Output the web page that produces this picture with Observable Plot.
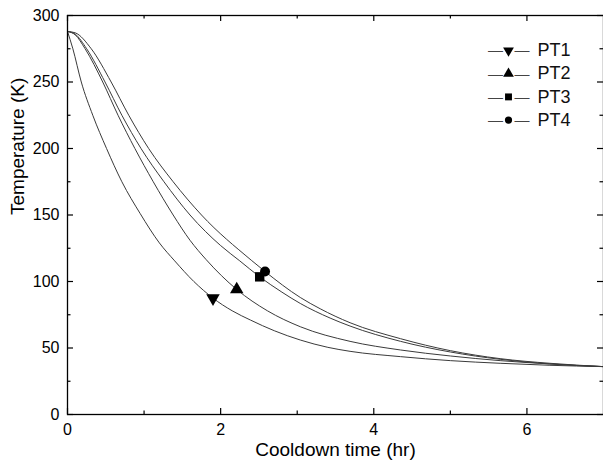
<!DOCTYPE html>
<html>
<head>
<meta charset="utf-8">
<script src="https://cdn.jsdelivr.net/npm/d3@7"></script>
<script src="https://cdn.jsdelivr.net/npm/@observablehq/plot@0.6"></script>
<style>
  html, body { margin: 0; padding: 0; background: #fff; }
  #chart svg { display: block; }
</style>
</head>
<body>
<div id="chart"></div>
<script>
// ---- data ----
const seriesNames = ["PT1", "PT2", "PT3", "PT4"];
const pt1Time = [0, 0.07, 0.18, 0.33, 0.51, 0.71, 0.95, 1.2, 1.40, 1.65, 1.90, 2.15, 2.39, 2.7, 3.04, 3.4, 3.69, 4.35, 5.0, 5.65, 6.3, 7.0];
const pt1Temp = [288, 275, 250, 225, 200, 175, 151, 129, 115.5, 100, 87.5, 78, 71, 63, 56, 50.5, 47.5, 43.5, 40.5, 38.5, 37, 36];
const pt2Time = [0, 0.1, 0.23, 0.46, 0.66, 0.88, 1.12, 1.38, 1.6, 1.81, 2.21, 2.61, 3.04, 3.69, 4.35, 5.0, 5.65, 6.3, 7.0];
const pt2Temp = [288, 285.5, 275, 250, 225, 200, 175, 150, 131, 116.5, 94, 78, 66, 55, 48.5, 44, 40.5, 38, 36];
const pt3Time = [0, 0.1, 0.25, 0.49, 0.71, 0.96, 1.26, 1.6, 2.0, 2.25, 2.51, 2.8, 3.04, 3.43, 3.69, 4.35, 5.0, 5.65, 6.3, 7.0];
const pt3Temp = [288, 286, 275, 250, 225, 200, 175, 150, 127, 115.5, 103.5, 92, 83.5, 72.5, 66.5, 55, 47, 41.5, 38, 36];
const pt4Time = [0, 0.1, 0.31, 0.57, 0.80, 1.06, 1.38, 1.75, 2.40, 2.58, 3.04, 3.3, 3.69, 4.35, 5.0, 5.65, 6.3, 7.0];
const pt4Temp = [288, 287, 275, 250, 225, 200, 175, 150, 116, 107.5, 88, 79.5, 69, 57, 48, 42, 38.5, 36];
// one marker per curve
const markerTime = [1.90, 2.21, 2.51, 2.58];
const markerTemp = [87.5, 94, 103.5, 107.5];
const markerSymbol = ["triangle", "triangle", "square", "circle"];
const markerRotate = [180, 0, 0, 0];
// axes
const xMajor = [0, 2, 4, 6];
const xMinor = [1, 3, 5];
const yMajor = [0, 50, 100, 150, 200, 250, 300];
const yMinor = [25, 75, 125, 175, 225, 275];
const xLabel = "Cooldown time (hr)";
const yLabel = "Temperature (K)";

// ---- tables built from the arrays ----
const times = [pt1Time, pt2Time, pt3Time, pt4Time];
const temps = [pt1Temp, pt2Temp, pt3Temp, pt4Temp];
const curves = seriesNames.flatMap((s, i) => times[i].map((t, j) => ({s, t, T: temps[i][j]})));
const markers = seriesNames.map((s, i) => ({s, t: markerTime[i], T: markerTemp[i], symbol: markerSymbol[i], rotate: markerRotate[i]}));

// ---- layout ----
const W = 603, H = 464;
const mL = 67, mR = 0, mT = 15, mB = 50;
const innerW = W - mL - mR, innerH = H - mT - mB;
const font = "'Liberation Sans', Arial, sans-serif";

const majorLen = 6, minorLen = 3.5;
const tickStyle = {stroke: "#000", strokeWidth: 1.2};
const plotR = {triangle: 5, square: 5.3, circle: 5};
const legendR = {triangle: 4, square: 3.9, circle: 3.6};

const legendMarks = markers.flatMap((m, i) => {
  const dy = 35 + i * 23.2;
  return [
    Plot.text(["\u2014"], {frameAnchor: "top-right", dx: -108, dy, text: d => d, fontSize: 15, fill: "#444", textAnchor: "middle", lineAnchor: "middle"}),
    Plot.text(["\u2014"], {frameAnchor: "top-right", dx: -81.5, dy, text: d => d, fontSize: 15, fill: "#444", textAnchor: "middle", lineAnchor: "middle"}),
    Plot.dot([m], {frameAnchor: "top-right", dx: -95, dy, symbol: "symbol", rotate: "rotate", r: legendR[m.symbol], fill: "#000", stroke: "none"}),
    Plot.text([m], {frameAnchor: "top-right", dx: -66, dy, text: "s", fontSize: 18, fill: "#111", textAnchor: "start", lineAnchor: "middle"})
  ];
});

const chart = Plot.plot({
  width: W,
  height: H,
  marginLeft: mL,
  marginRight: mR,
  marginTop: mT,
  marginBottom: mB,
  style: {fontFamily: font, background: "#fff", color: "#000"},
  x: {domain: [0, 7]},
  y: {domain: [0, 300]},
  r: {type: "identity"},
  symbol: {type: "identity"},
  marks: [
    // curves
    Plot.line(curves, {x: "t", y: "T", z: "s", stroke: "#3a3a3a", strokeWidth: 1, curve: "monotone-x"}),
    // markers
    Plot.dot(markers, {x: "t", y: "T", symbol: "symbol", rotate: "rotate", r: d => plotR[d.symbol], fill: "#000", stroke: "none"}),
    // frame
    Plot.frame({stroke: "#000", strokeWidth: 1.3}),
    // inward ticks: bottom & top
    Plot.tickX(xMajor, {x: d => d, insetTop: innerH - majorLen, ...tickStyle}),
    Plot.tickX(xMinor, {x: d => d, insetTop: innerH - minorLen, ...tickStyle}),
    Plot.tickX(xMajor, {x: d => d, insetBottom: innerH - majorLen, ...tickStyle}),
    Plot.tickX(xMinor, {x: d => d, insetBottom: innerH - minorLen, ...tickStyle}),
    // inward ticks: left & right
    Plot.tickY(yMajor, {y: d => d, insetRight: innerW - majorLen, ...tickStyle}),
    Plot.tickY(yMinor, {y: d => d, insetRight: innerW - minorLen, ...tickStyle}),
    Plot.tickY(yMajor, {y: d => d, insetLeft: innerW - majorLen, ...tickStyle}),
    Plot.tickY(yMinor, {y: d => d, insetLeft: innerW - minorLen, ...tickStyle}),
    // tick labels
    Plot.axisX({anchor: "bottom", ticks: xMajor, tickFormat: d => String(d), tickSize: 0, tickPadding: 9, fontSize: 16, label: null}),
    Plot.axisY({anchor: "left", ticks: yMajor, tickFormat: d => String(d), tickSize: 0, tickPadding: 8, fontSize: 16, label: null}),
    // axis titles
    Plot.text([xLabel], {frameAnchor: "bottom", dy: 35.5, text: d => d, fontSize: 19, fill: "#000", lineAnchor: "middle"}),
    Plot.text([yLabel], {frameAnchor: "left", dx: -49.5, rotate: -90, text: d => d, fontSize: 19, fill: "#000", lineAnchor: "middle"}),
    // legend
    ...legendMarks
  ]
});

document.getElementById("chart").appendChild(chart);
</script>
</body>
</html>
